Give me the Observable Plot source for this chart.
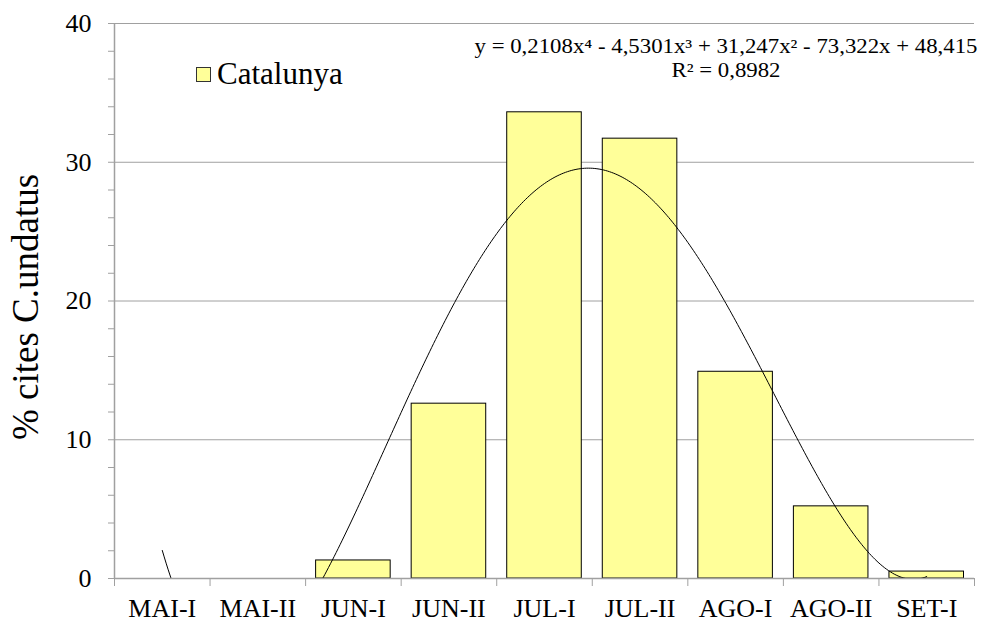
<!DOCTYPE html>
<html>
<head>
<meta charset="utf-8">
<script src="https://cdn.jsdelivr.net/npm/d3@7"></script>
<script src="https://cdn.jsdelivr.net/npm/@observablehq/plot@0.6"></script>
<style>
  body { margin: 0; background: #fff; }
  #wrap { position: relative; width: 986px; height: 623px; font-family: "Liberation Serif", "DejaVu Serif", serif; color: #000; }
  #wrap svg { position: absolute; left: 0; top: 0; }
  .ov { position: absolute; white-space: nowrap; line-height: 1; }
</style>
</head>
<body>
<div id="wrap"></div>
<script>
const categories = ["MAI-I", "MAI-II", "JUN-I", "JUN-II", "JUL-I", "JUL-II", "AGO-I", "AGO-II", "SET-I"];
const values = [0, 0, 1.3, 12.6, 33.6, 31.7, 14.9, 5.2, 0.5];
const yTicks = [0, 10, 20, 30, 40];
const seriesName = "Catalunya";
// trendline coefficients as printed on the chart (x^4, x^3, x^2, x, 1)
const trendCoef = [0.2108, -4.5301, 31.247, -73.322, 48.415];
const equationText = "y = 0,2108x⁴ - 4,5301x³ + 31,247x² - 73,322x + 48,415";
const r2Text = "R² = 0,8982";
const yLabel = "% cites C.undatus";

const data = categories.map((c, i) => ({cat: c, i: i + 1, value: values[i]}));
const poly = x => trendCoef.reduce((acc, c) => acc * x + c, 0);
const trend = d3.range(1, 9.0001, 0.02).map(x => ({x, y: poly(x)}));

const FONT = "'Liberation Serif', 'DejaVu Serif', serif";
const gray = "#a0a0a0";
const chart = Plot.plot({
  width: 986,
  height: 623,
  marginLeft: 114,
  marginRight: 12,
  marginTop: 23,
  marginBottom: 45,
  style: {fontFamily: FONT, background: "transparent", color: "#000"},
  x: {type: "linear", domain: [0.5, 9.5]},
  y: {domain: [0, 40]},
  marks: [
    Plot.gridY(yTicks.filter(d => d > 0), {stroke: gray, strokeOpacity: 1, strokeWidth: 1}),
    Plot.rectY(data, {x1: d => d.i - 0.5, x2: d => d.i + 0.5, y: "value", insetLeft: 10.5, insetRight: 10.5, fill: "#ffff99", stroke: "#000", strokeWidth: 1}),
    Plot.line(trend, {x: "x", y: "y", stroke: "#000", strokeWidth: 1, clip: true}),
    Plot.ruleY([0], {stroke: gray, strokeWidth: 1.5}),
    Plot.ruleX([0.5], {stroke: gray, strokeWidth: 1.5}),
    Plot.axisY({ticks: d3.range(0, 41, 2), tickSize: 6, tickFormat: () => "", stroke: gray, strokeOpacity: 1, label: null}),
    Plot.axisY({ticks: yTicks, tickSize: 0, tickPadding: 23, fontSize: 26, fontFamily: FONT, label: null}),
    Plot.axisX({ticks: d3.range(0.5, 9.6, 1), tickSize: 8, tickFormat: () => "", stroke: gray, strokeOpacity: 1, label: null}),
    Plot.axisX({ticks: d3.range(1, 10), tickSize: 0, tickPadding: 20.5, fontSize: 26, fontFamily: FONT, tickFormat: i => categories[i - 1], label: null})
  ]
});
const wrap = document.getElementById("wrap");
wrap.appendChild(chart);

function ov(html, css) {
  const d = document.createElement("div");
  d.className = "ov";
  d.innerHTML = html;
  Object.assign(d.style, css);
  wrap.appendChild(d);
  return d;
}
// legend
ov("", {left: "196px", top: "67px", width: "13px", height: "13px", border: "1px solid #333", background: "#ffff99"});
ov(seriesName, {left: "217px", top: "58px", fontSize: "31px"});
// equation
ov(equationText + "<br>" + r2Text, {left: "726px", top: "34px", fontSize: "20px", textAlign: "center", transform: "translateX(-50%) scaleX(1.14)", lineHeight: "24px"});
// y label
ov(yLabel, {left: "25px", top: "307px", fontSize: "37px", transform: "translate(-50%, -50%) rotate(-90deg)"});
</script>
</body>
</html>
